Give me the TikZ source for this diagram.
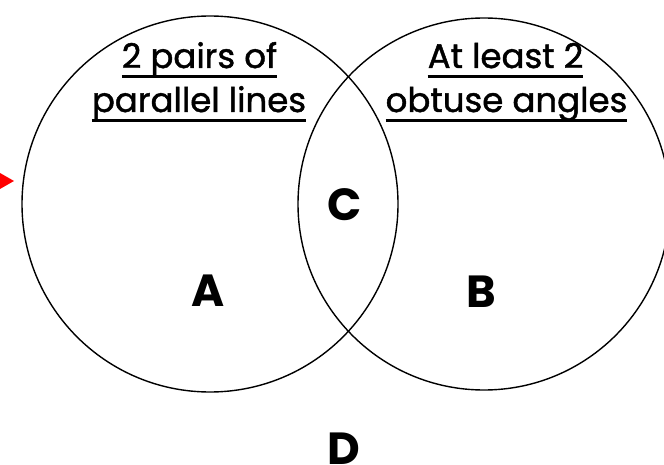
\documentclass[tikz,border=0pt]{standalone}
\usepackage{fontspec}
\setmainfont{Poppins}
\newfontfamily\titlefont{Poppins}[FakeBold=1.3]
\newcommand\myul[1]{\setbox0\hbox{#1}\rlap{\rule[-10pt]{\wd0}{2.6pt}}\box0}
\tikzset{
  setcircle/.style={draw=black, line width=1.4pt, circle},
  title/.style={anchor=base, inner sep=0pt, font=\titlefont\fontsize{34}{38}\selectfont},
  region/.style={inner sep=0pt, font=\fontsize{45}{48}\selectfont\bfseries},
}
\begin{document}
\begin{tikzpicture}[x=1pt,y=-1pt]
\useasboundingbox (0,0) rectangle (664,465);
\fill[white] (0,0) rectangle (664,465);
\draw[setcircle] (210,204) circle[radius=188];
\draw[setcircle] (484,204) circle[radius=186];
\node[title] (t1) at (199.5,68) {\myul{2 pairs of}};
\node[title] (t2) at (199,112) {\myul{parallel lines}};
\node[title] (t3) at (505.5,68) {\myul{At least 2}};
\node[title] (t4) at (506.5,112) {\myul{obtuse angles}};
\node[region] (A) at (208,291) {A};
\node[region] (B) at (481,292) {B};
\node[region] (C) at (345,205) {C};
\node[region] (D) at (344,449) {D};
\fill[red] (0,173) -- (14,181) -- (0,189) -- cycle;
\end{tikzpicture}
\end{document}
